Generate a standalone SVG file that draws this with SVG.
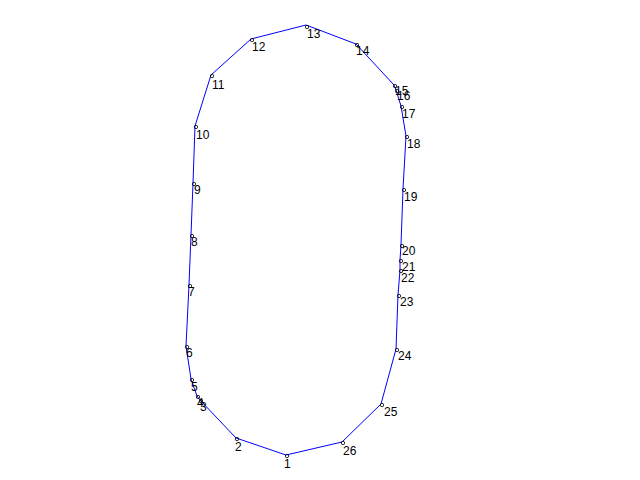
<svg xmlns="http://www.w3.org/2000/svg" width="640" height="480" viewBox="0 0 640 480">
<style>
.edge{fill:none;stroke:#0000ff;stroke-width:1}
.pt{fill:none;stroke:#000;stroke-width:0.8}
.lbl{font-family:"Liberation Sans",Arial,sans-serif;font-size:12px;fill:#000}
</style>
<rect width="640" height="480" fill="#fff"/>
<g id="connectors">
<polygon class="edge" points="286,455 236,438 200,400 197,396 191,379 186,346 189,285 191,235 193,183 195,126 211,75 251,39 306,25 356,44 394,85 396,90 401,106 406,136 403,189 401,245 400,260 400,270 398,295 396,349 381,404 342,442"/>
</g>
<g id="n1"><circle class="pt" cx="287" cy="456" r="1.7"/><text class="lbl" x="284" y="468">1</text></g>
<g id="n2"><circle class="pt" cx="237" cy="439" r="1.7"/><text class="lbl" x="235" y="451">2</text></g>
<g id="n3"><circle class="pt" cx="201" cy="401" r="1.7"/><text class="lbl" x="200" y="411">3</text></g>
<g id="n4"><circle class="pt" cx="198" cy="397" r="1.7"/><text class="lbl" x="197" y="407">4</text></g>
<g id="n5"><circle class="pt" cx="192" cy="380" r="1.7"/><text class="lbl" x="191" y="391">5</text></g>
<g id="n6"><circle class="pt" cx="187" cy="347" r="1.7"/><text class="lbl" x="186" y="357">6</text></g>
<g id="n7"><circle class="pt" cx="190" cy="286" r="1.7"/><text class="lbl" x="188" y="296">7</text></g>
<g id="n8"><circle class="pt" cx="192" cy="236" r="1.7"/><text class="lbl" x="191" y="246">8</text></g>
<g id="n9"><circle class="pt" cx="194" cy="184" r="1.7"/><text class="lbl" x="194" y="194">9</text></g>
<g id="n10"><circle class="pt" cx="196" cy="127" r="1.7"/><text class="lbl" x="196" y="139">10</text></g>
<g id="n11"><circle class="pt" cx="212" cy="76" r="1.7"/><text class="lbl" x="212" y="89">11</text></g>
<g id="n12"><circle class="pt" cx="252" cy="40" r="1.7"/><text class="lbl" x="252" y="51">12</text></g>
<g id="n13"><circle class="pt" cx="307" cy="27" r="1.7"/><text class="lbl" x="307" y="38">13</text></g>
<g id="n14"><circle class="pt" cx="357" cy="45" r="1.7"/><text class="lbl" x="356" y="55">14</text></g>
<g id="n15"><circle class="pt" cx="395" cy="86" r="1.7"/><text class="lbl" x="395" y="95">15</text></g>
<g id="n16"><circle class="pt" cx="397" cy="91" r="1.7"/><text class="lbl" x="397" y="100">16</text></g>
<g id="n17"><circle class="pt" cx="402" cy="107" r="1.7"/><text class="lbl" x="402" y="118">17</text></g>
<g id="n18"><circle class="pt" cx="407" cy="137" r="1.7"/><text class="lbl" x="407" y="148">18</text></g>
<g id="n19"><circle class="pt" cx="404" cy="190" r="1.7"/><text class="lbl" x="404" y="201">19</text></g>
<g id="n20"><circle class="pt" cx="402" cy="246" r="1.7"/><text class="lbl" x="402" y="255">20</text></g>
<g id="n21"><circle class="pt" cx="401" cy="261" r="1.7"/><text class="lbl" x="402" y="271">21</text></g>
<g id="n22"><circle class="pt" cx="401" cy="271" r="1.7"/><text class="lbl" x="401" y="282">22</text></g>
<g id="n23"><circle class="pt" cx="399" cy="296" r="1.7"/><text class="lbl" x="400" y="306">23</text></g>
<g id="n24"><circle class="pt" cx="397" cy="350" r="1.7"/><text class="lbl" x="398" y="360">24</text></g>
<g id="n25"><circle class="pt" cx="382" cy="405" r="1.7"/><text class="lbl" x="384" y="416">25</text></g>
<g id="n26"><circle class="pt" cx="343" cy="443" r="1.7"/><text class="lbl" x="343" y="455">26</text></g>
</svg>
